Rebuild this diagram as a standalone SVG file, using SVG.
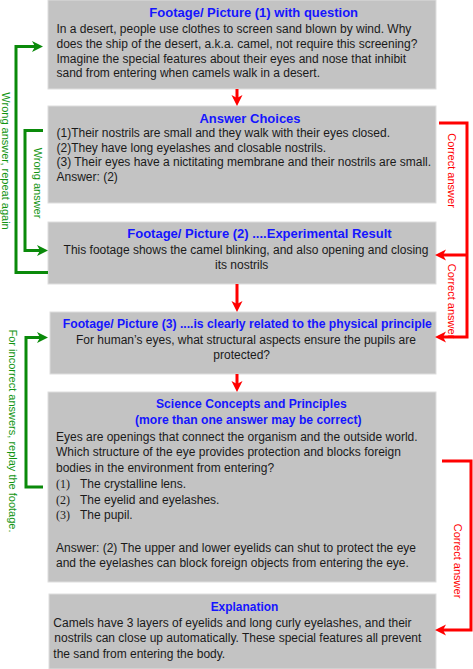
<svg xmlns="http://www.w3.org/2000/svg" width="473" height="669" viewBox="0 0 473 669">
<style>
.box{fill:#c3c3c3;stroke:#dedede;stroke-width:1}
.t{font-family:"Liberation Sans",Arial,sans-serif;font-size:13px;font-weight:bold;fill:#1515ff;text-anchor:middle}
.ts{font-size:12.3px}
.b{font-family:"Liberation Sans",Arial,sans-serif;font-size:12px;fill:#1a1a1a}
.c{text-anchor:middle}
.n{font-family:"Liberation Serif","Times New Roman",serif;font-size:12px;fill:#1a1a1a}
.g{fill:none;stroke:#0a8a0a;stroke-width:3}
.r{fill:none;stroke:#ff0000;stroke-width:3}
.gl{font-family:"Liberation Sans",Arial,sans-serif;font-size:11px;fill:#119411;text-anchor:middle}
.rl{font-family:"Liberation Sans",Arial,sans-serif;font-size:11px;fill:#ff0000;text-anchor:middle}
</style>
<defs>
<marker id="ag" markerUnits="userSpaceOnUse" viewBox="0 0 11 12" refX="3" refY="6" markerWidth="11" markerHeight="12" orient="auto">
<path d="M11,6 L0,0.5 L3,6 L0,11.5 Z" fill="#0a8a0a"/>
</marker>
<marker id="ar" markerUnits="userSpaceOnUse" viewBox="0 0 11 12" refX="3" refY="6" markerWidth="11" markerHeight="12" orient="auto">
<path d="M11,6 L0,0.5 L3,6 L0,11.5 Z" fill="#ff0000"/>
</marker>
</defs>

<g id="box1">
<rect class="box" x="48" y="0" width="388" height="89"/>
<text class="t" x="253.7" y="16.5">Footage/ Picture (1) with question</text>
<text class="b" x="56.5" y="33">In a desert, people use clothes to screen sand blown by wind. Why</text>
<text class="b" x="56.5" y="48">does the ship of the desert, a.k.a. camel, not require this screening?</text>
<text class="b" x="56.5" y="62.5">Imagine the special features about their eyes and nose that inhibit</text>
<text class="b" x="56.5" y="77">sand from entering when camels walk in a desert.</text>
</g>

<g id="box2">
<rect class="box" x="48" y="106" width="388" height="97"/>
<text class="t" x="250" y="122.5">Answer Choices</text>
<text class="b" x="56.5" y="137">(1)Their nostrils are small and they walk with their eyes closed.</text>
<text class="b" x="56.5" y="151.5">(2)They have long eyelashes and closable nostrils.</text>
<text class="b" x="56.5" y="166">(3) Their eyes have a nictitating membrane and their nostrils are small.</text>
<text class="b" x="56.5" y="180.5">Answer: (2)</text>
</g>

<g id="box3">
<rect class="box" x="48" y="222" width="388" height="62"/>
<text class="t" x="259.5" y="238.3">Footage/ Picture (2) ....Experimental Result</text>
<text class="b c" x="246" y="253.7">This footage shows the camel blinking, and also opening and closing</text>
<text class="b c" x="241.7" y="269">its nostrils</text>
</g>

<g id="box4">
<rect class="box" x="50" y="312" width="386" height="62"/>
<text class="t ts" x="247.3" y="328.3" textLength="369" lengthAdjust="spacingAndGlyphs">Footage/ Picture (3) ....is clearly related to the physical principle</text>
<text class="b c" x="246" y="343.7">For human’s eyes, what structural aspects ensure the pupils are</text>
<text class="b c" x="241.7" y="359.3">protected?</text>
</g>

<g id="box5">
<rect class="box" x="48" y="392" width="388" height="190"/>
<text class="t ts" x="251.3" y="407.7" textLength="190.7" lengthAdjust="spacingAndGlyphs">Science Concepts and Principles</text>
<text class="t ts" x="248.3" y="424" textLength="226.7" lengthAdjust="spacingAndGlyphs">(more than one answer may be correct)</text>
<text class="b" x="56" y="440.7">Eyes are openings that connect the organism and the outside world.</text>
<text class="b" x="56" y="456">Which structure of the eye provides protection and blocks foreign</text>
<text class="b" x="56" y="471.5">bodies in the environment from entering?</text>
<text class="n" x="56" y="488.3">(1)</text><text class="b" x="80" y="488.3">The crystalline lens.</text>
<text class="n" x="56" y="503.7">(2)</text><text class="b" x="80" y="503.7">The eyelid and eyelashes.</text>
<text class="n" x="56" y="519.3">(3)</text><text class="b" x="80" y="519.3">The pupil.</text>
<text class="b" x="56" y="552.3">Answer: (2) The upper and lower eyelids can shut to protect the eye</text>
<text class="b" x="56" y="567.3">and the eyelashes can block foreign objects from entering the eye.</text>
</g>

<g id="box6">
<rect class="box" x="49" y="594" width="387" height="75"/>
<text class="t ts" x="244.5" y="610.7" textLength="67.7" lengthAdjust="spacingAndGlyphs">Explanation</text>
<text class="b" x="53.3" y="626.7">Camels have 3 layers of eyelids and long curly eyelashes, and their</text>
<text class="b" x="54.3" y="641.7">nostrils can close up automatically. These special features all prevent</text>
<text class="b" x="53.3" y="658.3">the sand from entering the body.</text>
</g>

<g id="connectors">
<path class="r" d="M237,89 V98" marker-end="url(#ar)"/>
<path class="r" d="M237,284 V304" marker-end="url(#ar)"/>
<path class="r" d="M237,374 V384" marker-end="url(#ar)"/>

<path class="g" d="M48,272.5 H16 V46.5 H35" marker-end="url(#ag)"/>
<path class="g" d="M43,130.5 H25 V250.5 H40" marker-end="url(#ag)"/>
<path class="g" d="M43,487 H26 V337.5 H40" marker-end="url(#ag)"/>

<path class="r" d="M439,123 H467 V337 H443" marker-end="url(#ar)"/>
<path class="r" d="M467,255 H443" marker-end="url(#ar)"/>
<path class="r" d="M442,461 H471 V630 H443" marker-end="url(#ar)"/>

<text class="gl" transform="translate(2,161) rotate(90)">Wrong answer, repeat again</text>
<text class="gl" transform="translate(34,183) rotate(90)">Wrong answer</text>
<text class="gl" transform="translate(9,431) rotate(90)">For incorrect answers, replay the footage.</text>
<text class="rl" transform="translate(448,170.5) rotate(90)">Correct answer</text>
<text class="rl" transform="translate(448,301) rotate(90)">Correct answer</text>
<text class="rl" transform="translate(454,561) rotate(90)">Correct answer</text>
</g>
</svg>
